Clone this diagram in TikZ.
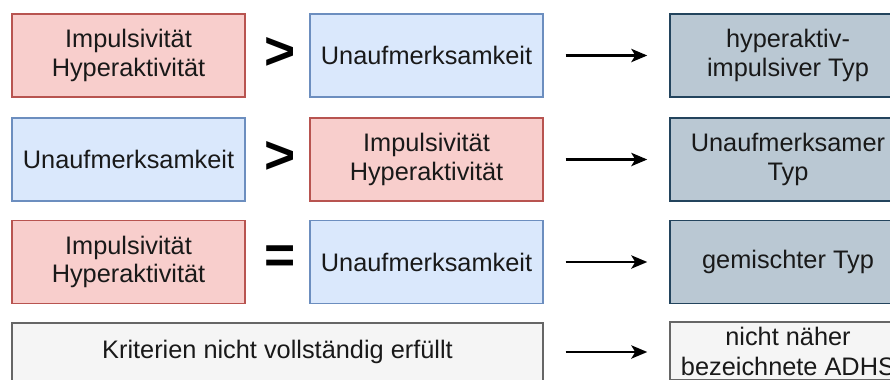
\documentclass[tikz,border=0pt]{standalone}
\usepackage{fontspec}
\setmainfont{Liberation Sans}
\usetikzlibrary{arrows.meta}
\definecolor{redfill}{HTML}{F8CECC}
\definecolor{reddraw}{HTML}{B85450}
\definecolor{bluefill}{HTML}{DAE8FC}
\definecolor{bluedraw}{HTML}{6C8EBF}
\definecolor{darkfill}{HTML}{BAC8D3}
\definecolor{darkdraw}{HTML}{23445D}
\definecolor{grayfill}{HTML}{F5F5F5}
\definecolor{graydraw}{HTML}{666666}
\tikzset{
  box/.style={draw, line width=1.1pt, inner sep=0pt, align=center,
    minimum width=174.75pt, minimum height=62.25pt,
    font=\fontsize{19}{21.5}\selectfont, text=black!90},
  redbox/.style={box, fill=redfill, draw=reddraw},
  bluebox/.style={box, fill=bluefill, draw=bluedraw},
  darkbox/.style={box, fill=darkfill, draw=darkdraw, minimum width=177pt},
  graybox/.style={box, fill=grayfill, draw=graydraw},
  sym/.style={inner sep=0pt, font=\fontsize{40}{40}\selectfont\bfseries},
  arr/.style={line width=1.6pt, -{Stealth[length=12pt,width=10pt,inset=3pt]},
    shorten <=16.5pt, shorten >=16.5pt}
}
\begin{document}
\begin{tikzpicture}[x=0.75pt,y=-0.75pt]
\useasboundingbox (0,0) rectangle (890,379);
\clip (0,0) rectangle (890,379);
% row 1
\node[redbox] (l1) at (128.5,55.5) {Impulsivität\\Hyperaktivität};
\node[sym] (s1) at (280,53) {>};
\node[bluebox] (m1) at (426.5,55.5) {Unaufmerksamkeit};
\node[darkbox] (r1) at (788,55.5) {hyperaktiv-\\impulsiver Typ};
\draw[arr] (m1.east) -- (r1.west);
% row 2
\node[bluebox] (l2) at (128.5,159.5) {Unaufmerksamkeit};
\node[sym] (s2) at (280,157) {>};
\node[redbox] (m2) at (426.5,159.5) {Impulsivität\\Hyperaktivität};
\node[darkbox] (r2) at (788,159.5) {Unaufmerksamer\\Typ};
\draw[arr] (m2.east) -- (r2.west);
% row 3
\node[redbox] (l3) at (128.5,262) {Impulsivität\\Hyperaktivität};
\node[sym] (s3) at (280,260) {=};
\node[bluebox] (m3) at (426.5,262) {Unaufmerksamkeit};
\node[darkbox] (r3) at (788,262) {gemischter Typ};
\draw[arr] (m3.east) -- (r3.west);
% row 4
\node[graybox, minimum width=398.25pt, minimum height=43.5pt] (l4) at (277.5,352) {Kriterien nicht vollständig erfüllt};
\node[graybox, minimum width=177pt, minimum height=43.5pt, font=\fontsize{19}{22.5}\selectfont] (r4) at (788,351) {nicht näher\\bezeichnete ADHS};
\draw[arr] (l4.east) -- (l4.east -| r4.west);
\end{tikzpicture}
\end{document}
